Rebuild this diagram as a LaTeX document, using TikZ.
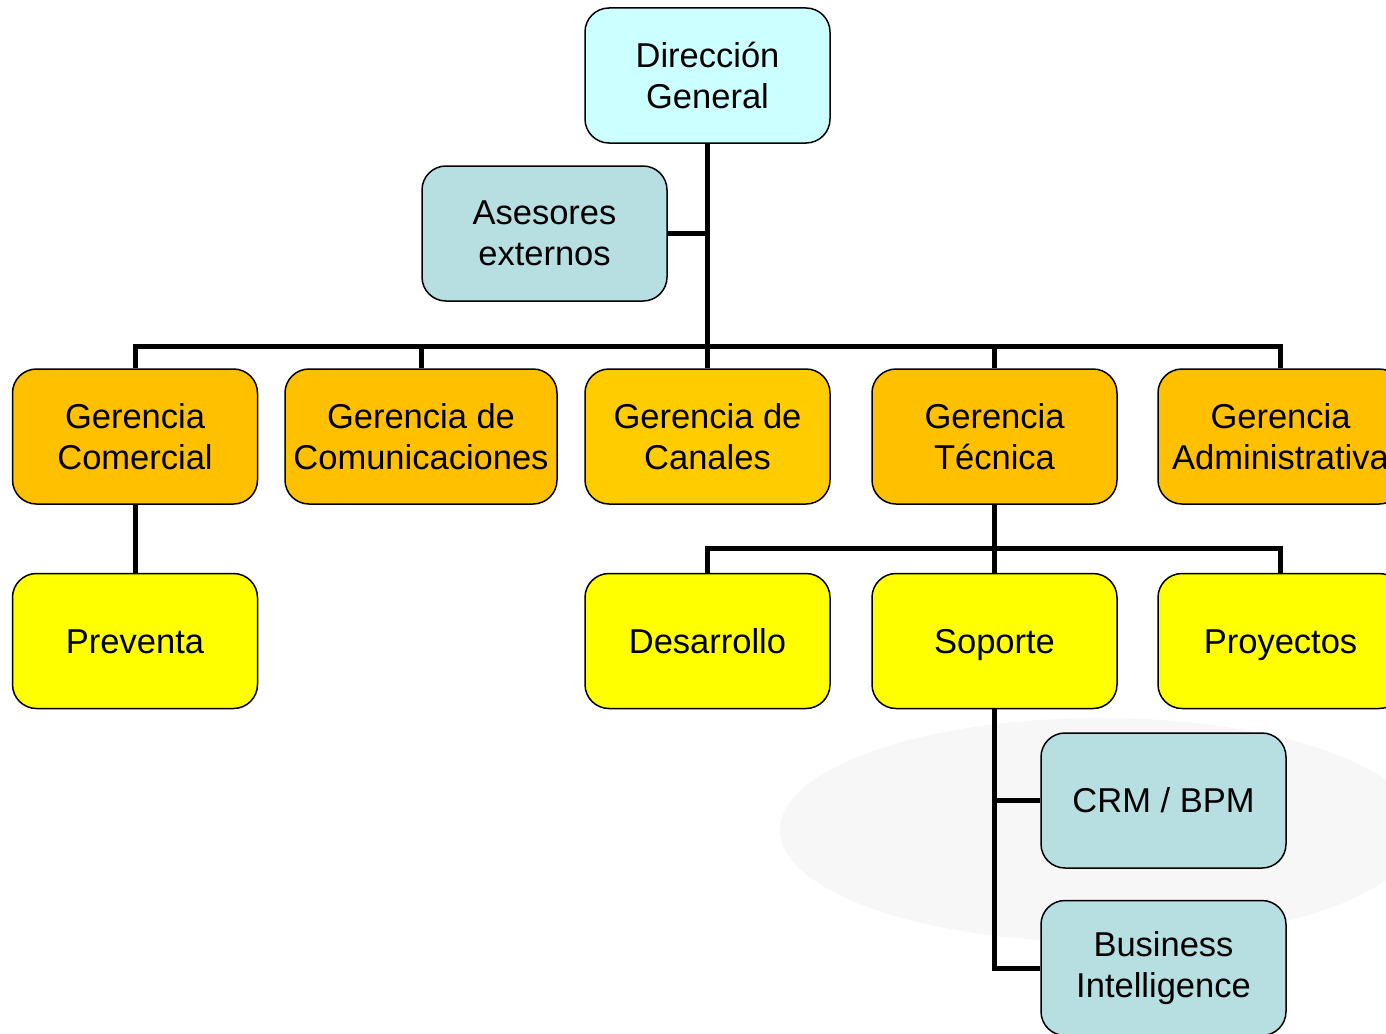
\documentclass[tikz,border=0pt]{standalone}
\usepackage{fontspec}
\setmainfont{Liberation Sans}
\usetikzlibrary{positioning}
\definecolor{direccioncyan}{HTML}{CCFFFF}
\definecolor{asesorblue}{HTML}{B7DFE2}
\definecolor{gerenciaorange}{HTML}{FFC000}
\definecolor{canalesgold}{HTML}{FFCC00}
\definecolor{areayellow}{HTML}{FFFF00}
\definecolor{shadowgray}{HTML}{F7F7F7}
\begin{document}
\begin{tikzpicture}[x=1pt,y=1pt,
  every node/.style={font=\fontsize{34.5}{41}\selectfont,align=center},
  unit/.style={draw=black,line width=1.5pt,rounded corners=24pt,minimum width=245pt,minimum height=135pt,inner sep=2pt},
  oneline/.style={text height=24.7pt,text depth=0pt},
  link/.style={line width=5pt}]
\clip (0,0) rectangle (1386,-1033);
\fill[shadowgray] (1100,-830) ellipse [x radius=320, y radius=112];
% top
\node[unit,fill=direccioncyan] (dg) at (707.5,-75.5) {Dirección\\General};
\node[unit,fill=asesorblue] (ae) at (544.5,-233.5) {Asesores\\externos};
% gerencias
\node[unit,fill=gerenciaorange] (gc) at (135,-436.5) {Gerencia\\Comercial};
\node[unit,fill=gerenciaorange,minimum width=272pt] (gcom) at (421,-436.5) {Gerencia de\\Comunicaciones};
\node[unit,fill=canalesgold] (gcan) at (707.5,-436.5) {Gerencia de\\Canales};
\node[unit,fill=gerenciaorange] (gt) at (994.5,-436.5) {Gerencia\\Técnica};
\node[unit,fill=gerenciaorange] (gadm) at (1280.5,-436.5) {Gerencia\\Administrativa};
% areas
\node[unit,oneline,fill=areayellow,below=68pt of gc] (pv) {Preventa};
\node[unit,oneline,fill=areayellow,below=68pt of gcan] (des) {Desarrollo};
\node[unit,oneline,fill=areayellow,below=68pt of gt] (sop) {Soporte};
\node[unit,oneline,fill=areayellow,below=68pt of gadm] (proy) {Proyectos};
\node[unit,oneline,fill=asesorblue] (crm) at (1163.5,-800.5) {CRM / BPM};
\node[unit,fill=asesorblue,below=31pt of crm] (bi) {Business\\Intelligence};
% links
\coordinate (bus) at (0,-346);
\coordinate (bus2) at (0,-548);
\draw[link] (dg.south) -- (dg.south |- bus);
\draw[link] (ae.east) -- (ae.east -| dg.south);
\draw[link] (gc.north) -- (gc.north |- bus) -- (gadm.north |- bus) -- (gadm.north);
\foreach \n in {gcom,gcan,gt} \draw[link] (\n.north) -- (\n.north |- bus);
\draw[link] (gc.south) -- (pv.north);
\draw[link] (gt.south) -- (gt.south |- bus2);
\draw[link] (des.north) -- (des.north |- bus2) -- (proy.north |- bus2) -- (proy.north);
\draw[link] (sop.north) -- (sop.north |- bus2);
\draw[link] (sop.south) |- (bi.west);
\draw[link] (sop.south |- crm.west) -- (crm.west);
\end{tikzpicture}
\end{document}
